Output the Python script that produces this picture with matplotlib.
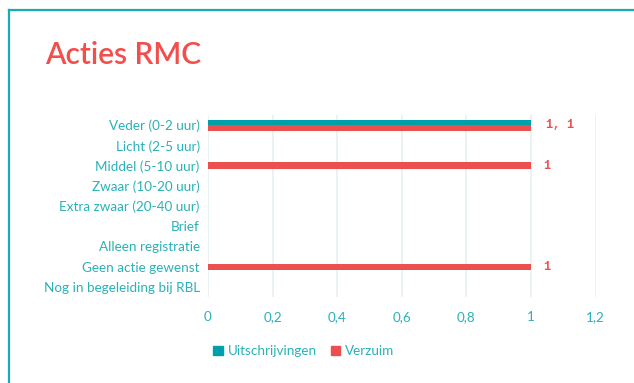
import matplotlib
matplotlib.use("Agg")
import matplotlib.pyplot as plt
from matplotlib.lines import Line2D
import numpy as np

plt.rcParams['font.family'] = ['Lato', 'DejaVu Sans']

categories = [
    "Veder (0-2 uur)",
    "Licht (2-5 uur)",
    "Middel (5-10 uur)",
    "Zwaar (10-20 uur)",
    "Extra zwaar (20-40 uur)",
    "Brief",
    "Alleen registratie",
    "Geen actie gewenst",
    "Nog in begeleiding bij RBL",
]
uitschrijvingen = [1, 0, 0, 0, 0, 0, 0, 0, 0]
verzuim = [1, 0, 1, 0, 0, 0, 0, 1, 0]
x_ticks = [0, 0.2, 0.4, 0.6, 0.8, 1, 1.2]
x_tick_labels = ["0", "0,2", "0,4", "0,6", "0,8", "1", "1,2"]

TEAL = '#00a0aa'
RED = '#ec504e'
TEXT = '#2ab1b9'
TITLE = '#f24e4c'
GRID = '#e6f1ef'

W, H = 634, 383
fig = plt.figure(figsize=(W / 100, H / 100), dpi=100)
fig.patch.set_facecolor('white')

# panel frame (left and top edges)
fig.add_artist(Line2D([8.5 / W, 8.5 / W], [0, 1 - 10 / H], color='#1aacb4', lw=1.6))
fig.add_artist(Line2D([8.5 / W, 1], [1 - 10 / H, 1 - 10 / H], color='#1aacb4', lw=1.6))

fig.text(45 / W, 1 - 55 / H, "Acties RMC", color=TITLE, fontsize=21.5,
         fontweight='semibold', va='center', ha='left')

ax = fig.add_axes([208 / W, 86 / H, (595.6 - 208) / W, 182 / H])
ax.set_xlim(0, 1.2)
ax.set_ylim(len(categories) - 0.5, -0.5)

y = np.arange(len(categories))
bar_h = 0.27
series = [(uitschrijvingen, TEAL), (verzuim, RED)]
for i in range(len(categories)):
    present = [(vals[i], c) for vals, c in series if vals[i] > 0]
    n = len(present)
    for k, (v, c) in enumerate(present):
        off = (k - (n - 1) / 2) * bar_h
        h = bar_h if n > 1 else bar_h * 1.15
        ax.barh(y[i] + off, v, height=h, color=c, linewidth=0)
    if n:
        label = ", ".join(f"{v:g}" for v, _ in present)
        ax.annotate(label, (max(v for v, _ in present), y[i]),
                    xytext=(9 if n == 1 else 11, 0), textcoords='offset points',
                    color=RED, fontsize=8.5, fontweight='bold',
                    family='Liberation Mono', va='center', ha='left')

ax.set_yticks(y)
ax.set_yticklabels(categories, color=TEXT, fontsize=9.7)
ax.set_xticks(x_ticks)
ax.set_xticklabels(x_tick_labels, color=TEXT, fontsize=9.7)
ax.tick_params(length=0, pad=6)
ax.tick_params(axis='x', pad=10)
for s in ax.spines.values():
    s.set_visible(False)
ax.grid(True, axis='x', color=GRID, lw=1.2)
ax.set_axisbelow(True)

handles = [plt.Rectangle((0, 0), 1, 1, color=TEAL), plt.Rectangle((0, 0), 1, 1, color=RED)]
fig.legend(handles, ["Uitschrijvingen", "Verzuim"], loc='center left',
           bbox_to_anchor=(201 / W, 1 - 351 / H), ncol=2, frameon=False,
           handlelength=0.7, handleheight=0.7, handletextpad=0.4,
           columnspacing=1.0, labelcolor=TEXT, fontsize=9.7)

fig.savefig("out.png", dpi=100)
